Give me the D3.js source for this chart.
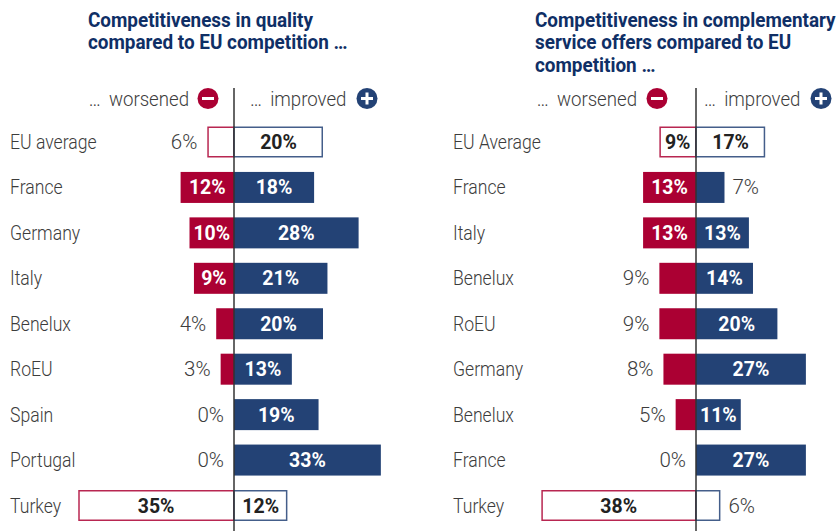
<!DOCTYPE html>
<html><head><meta charset="utf-8"><script src="https://cdn.jsdelivr.net/npm/d3@7"></script>
<style>html,body{margin:0;padding:0;background:#fff}svg{display:block}text{font-family:Roboto,"Liberation Sans",sans-serif}</style></head>
<body><div id="c"></div><script>
const catsA=["EU average","France","Germany","Italy","Benelux","RoEU","Spain","Portugal","Turkey"];
const worseA=[6,12,10,9,4,3,0,0,35];
const betterA=[20,18,28,21,20,13,19,33,12];
const catsB=["EU Average","France","Italy","Benelux","RoEU","Germany","Benelux","France","Turkey"];
const worseB=[9,13,13,9,9,8,5,0,38];
const betterB=[17,7,13,14,20,27,11,27,6];
const titleA=["Competitiveness in quality","compared to EU competition …"];
const titleB=["Competitiveness in complementary","service offers compared to EU","competition …"];
const outlinedRows=[0,8];
const worseOutsideA=[0,4,5,6,7];
const worseOutsideB=[3,4,5,6,7];
const betterOutsideB=[1,8];

const RED="#ab0033",BLUE="#234275",NAVY="#0f2f66",INK="#3c3c3c";
const svg=d3.select("#c").append("svg").attr("width",840).attr("height",531);
const y=d3.scalePoint().domain(d3.range(9)).range([142,505.5]);
const BAR=31, SX_CAT=.86, SX_PCT=1.0, SX_BOLD=.95;

function label(g,x,yy,str,opts){
  const o=Object.assign({anchor:"start",weight:300,size:20.5,fill:INK,sx:SX_CAT,dots:3.5},opts||{});
  const t=g.append("text").attr("transform",`translate(${x},${yy}) scale(${o.sx},1)`)
    .attr("text-anchor",o.anchor).attr("font-size",o.size).attr("font-weight",o.weight)
    .attr("fill",o.fill);
  str.split(/(…)/).filter(s=>s.length).forEach(s=>{
    const ts=t.append("tspan").text(s);
    if(s==="…")ts.attr("letter-spacing",o.dots);
  });
  return t;
}
function panel(o){
  const xn=d3.scaleLinear().domain([0,1]).range([o.zero,o.zero-o.unit]);
  const xp=d3.scaleLinear().domain([0,1]).range([o.zero,o.zero+o.unit]);
  const g=svg.append("g");
  o.title.forEach((d,i)=>label(g,o.titleX,27+i*22.3,d,{weight:700,size:20,fill:NAVY,sx:.945,dots:4}));
  o.cats.forEach((d,i)=>label(g,o.catX,y(i)+7,d));
  [[o.worseEnd,"end","… worsened",RED,o.minusX,"−"],[o.betterStart,"start","… improved",BLUE,o.plusX,"+"]].forEach(h=>{
    label(g,h[0],106,h[2],{anchor:h[1],sx:.91,dots:4});
    g.append("circle").attr("cx",h[4]).attr("cy",98.5).attr("r",10.5).attr("fill",h[3]);
    g.append("rect").attr("x",h[4]-6).attr("y",97).attr("width",12).attr("height",3).attr("fill","#fff");
    if(h[5]==="+")g.append("rect").attr("x",h[4]-1.5).attr("y",92.5).attr("width",3).attr("height",12).attr("fill","#fff");
  });
  function side(vals,x,color,outside,sign){
    vals.forEach((v,i)=>{
      const out=outlinedRows.includes(i), px=x(v), left=Math.min(px,o.zero), w=Math.abs(px-o.zero);
      if(v>0){
        if(out)g.append("rect").attr("x",left+(sign<0?.75:0)).attr("y",y(i)-BAR/2+.75).attr("width",w-.75).attr("height",BAR-1.5)
          .attr("fill","#fff").attr("stroke",color).attr("stroke-width",1.5).attr("stroke-opacity",.85);
        else g.append("rect").attr("x",left).attr("y",y(i)-BAR/2).attr("width",w).attr("height",BAR).attr("fill",color);
      }
      const isOut=outside.includes(i);
      label(g,isOut?px+sign*(sign<0?10:8):(px+o.zero)/2,y(i)+7,v+"%",{
        anchor:isOut?(sign<0?"end":"start"):"middle",
        weight:isOut?300:700, sx:isOut?SX_PCT:SX_BOLD,
        fill:isOut?INK:(out?"#222":"#fff")});
    });
  }
  side(o.worse,xn,RED,o.worseOut,-1);
  side(o.better,xp,BLUE,o.betterOut,1);
  g.append("line").attr("x1",o.zero).attr("x2",o.zero).attr("y1",88).attr("y2",531).attr("stroke","#333").attr("stroke-width",1.5);
}
panel({zero:234,unit:4.45,cats:catsA,worse:worseA,better:betterA,title:titleA,titleX:88,catX:10,
  worseOut:worseOutsideA,betterOut:[],worseEnd:189,betterStart:250,minusX:208,plusX:367});
panel({zero:696,unit:4.07,cats:catsB,worse:worseB,better:betterB,title:titleB,titleX:535,catX:453,
  worseOut:worseOutsideB,betterOut:betterOutsideB,worseEnd:637,betterStart:704,minusX:657,plusX:821});
</script></body></html>
